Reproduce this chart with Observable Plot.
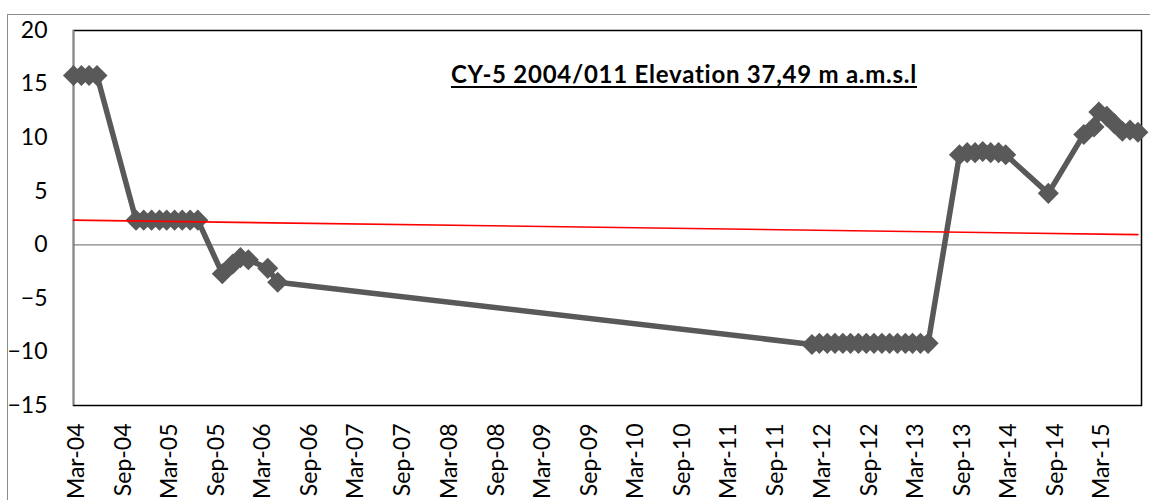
<!DOCTYPE html>
<html>
<head>
<meta charset="utf-8">
<script src="https://cdn.jsdelivr.net/npm/d3@7"></script>
<script src="https://cdn.jsdelivr.net/npm/@observablehq/plot@0.6"></script>
<style>
  html, body { margin: 0; padding: 0; background: #fff; overflow: hidden; }
  #wrap { position: relative; width: 1150px; height: 500px; }
  #outer { position: absolute; left: 7px; top: 14px; width: 1170px; height: 520px; border: 1px solid #8c8c8c; box-sizing: border-box; }
  #chart { position: absolute; left: 0; top: 0; width: 1150px; height: 500px; }
  #title { position: absolute; left: 334px; width: 700px; top: 62px; text-align: center;
           font-family: Lato, "Open Sans", sans-serif; font-weight: bold; font-size: 24px; line-height: 24px;
           letter-spacing: 0.75px; white-space: nowrap;
           text-decoration: underline; text-decoration-thickness: 2px; text-underline-offset: 3px; color: #000; }
</style>
</head>
<body>
<div id="wrap">
  <div id="outer"></div>
  <div id="chart"></div>
  <div id="title">CY-5 2004/011 Elevation 37,49 m a.m.s.l</div>
</div>
<script>
// Measurement dates and water level values (m)
const dates = [
  "2004-03-01","2004-04-01","2004-05-01","2004-06-01",
  "2004-11-01","2004-12-01","2005-01-01","2005-02-01","2005-03-01","2005-04-01","2005-05-01","2005-06-01","2005-07-01",
  "2005-10-05","2005-11-15","2005-12-15","2006-01-15","2006-04-01","2006-05-10",
  "2012-02-01","2012-03-01","2012-04-01","2012-05-01","2012-06-01","2012-07-01","2012-08-01","2012-09-01",
  "2012-10-01","2012-11-01","2012-12-01","2013-01-01","2013-02-01","2013-03-01","2013-04-01","2013-05-01",
  "2013-09-01","2013-10-01","2013-11-01","2013-12-01","2014-01-01","2014-02-01","2014-03-01",
  "2014-08-15",
  "2015-01-01","2015-02-10","2015-03-01","2015-04-01","2015-05-01","2015-06-01","2015-07-01","2015-08-01"
];
const values = [
  15.8, 15.8, 15.8, 15.8,
  2.3, 2.3, 2.3, 2.3, 2.3, 2.3, 2.3, 2.3, 2.3,
  -2.7, -1.8, -1.2, -1.4, -2.2, -3.5,
  -9.3, -9.2, -9.2, -9.2, -9.2, -9.2, -9.2, -9.2,
  -9.2, -9.2, -9.2, -9.2, -9.2, -9.2, -9.2, -9.2,
  8.4, 8.6, 8.6, 8.7, 8.6, 8.6, 8.4,
  4.8,
  10.3, 11.0, 12.4, 12.0, 11.3, 10.6, 10.7, 10.5
];
// Linear trend line (red) endpoints
const trendDates = ["2004-03-01", "2015-08-01"];
const trendValues = [2.3, 0.95];
// Axis ticks
const yTicks = [-15, -10, -5, 0, 5, 10, 15, 20];
const xTickDates = [
  "2004-03-01","2004-09-01","2005-03-01","2005-09-01","2006-03-01","2006-09-01","2007-03-01","2007-09-01",
  "2008-03-01","2008-09-01","2009-03-01","2009-09-01","2010-03-01","2010-09-01","2011-03-01","2011-09-01",
  "2012-03-01","2012-09-01","2013-03-01","2013-09-01","2014-03-01","2014-09-01","2015-03-01"
];
const xDomain = ["2004-03-01", "2015-08-15"];

const data = dates.map((d, i) => ({date: new Date(d), value: values[i]}));
const trend = trendDates.map((d, i) => ({date: new Date(d), value: trendValues[i]}));
const xDom = xDomain.map(d => new Date(d));
const fmt = d3.utcFormat("%b-%y");

const chart = Plot.plot({
  width: 1150,
  height: 500,
  marginLeft: 73,
  marginTop: 30,
  marginRight: 9,
  marginBottom: 95,
  style: {fontFamily: "Lato, 'Open Sans', sans-serif", color: "#000", background: "transparent", overflow: "visible", maxWidth: "none"},
  x: {type: "utc", domain: xDom},
  y: {domain: [-15, 20]},
  marks: [
    Plot.ruleY([0], {stroke: "#868686", strokeWidth: 1.3}),
    Plot.frame({stroke: "#000", strokeWidth: 1.5}),
    Plot.ruleX([xDom[0]], {stroke: "#868686", strokeWidth: 1.5}),
    Plot.axisY({ticks: yTicks, tickSize: 0, tickPadding: 26, label: null, fontSize: 23}),
    Plot.axisX({ticks: xTickDates.map(d => new Date(d)), tickFormat: fmt, tickRotate: -90, tickSize: 0, tickPadding: 18, dx: 3, label: null, fontSize: 23}),
    Plot.line(data, {x: "date", y: "value", stroke: "#595959", strokeWidth: 5.5}),
    Plot.dot(data, {x: "date", y: "value", symbol: "diamond2", r: 9.5, fill: "#595959", stroke: "none"}),
    Plot.line(trend, {x: "date", y: "value", stroke: "#ff0000", strokeWidth: 1.6})
  ]
});
document.getElementById("chart").appendChild(chart);
</script>
</body>
</html>
